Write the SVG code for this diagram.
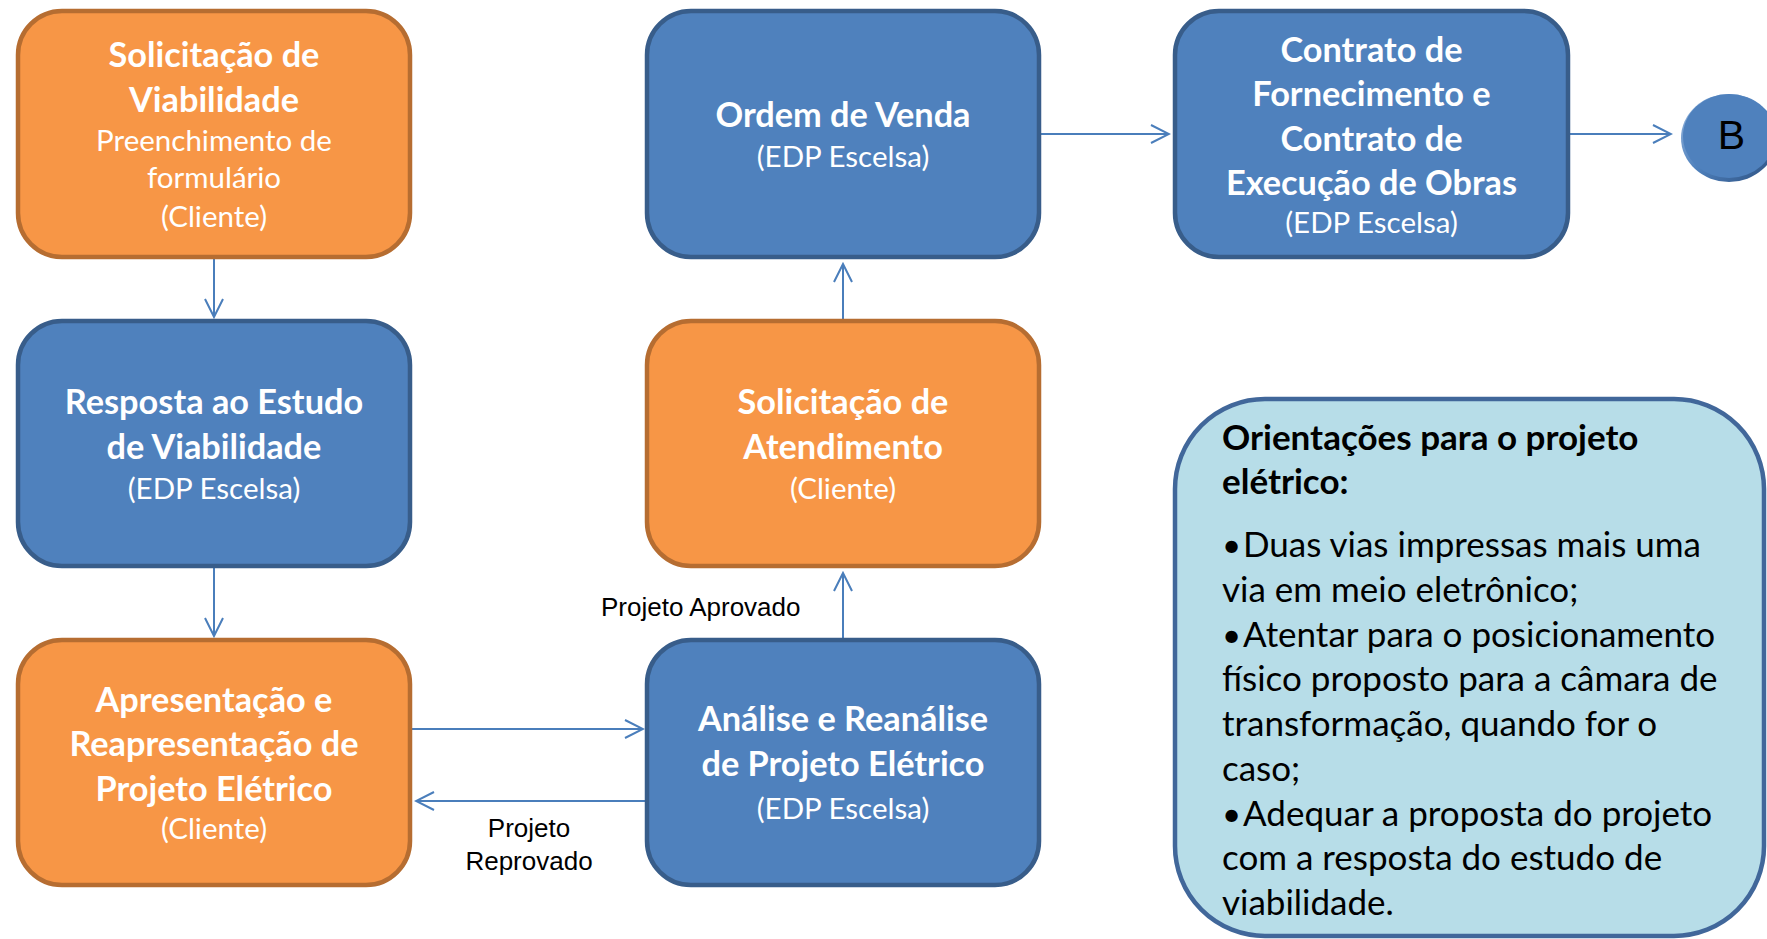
<svg xmlns="http://www.w3.org/2000/svg" width="1767" height="939" viewBox="0 0 1767 939">
<style>
.org{fill:#F79646;stroke:#B66D31;stroke-width:4.5}
.blu{fill:#4F81BD;stroke:#385D8A;stroke-width:4.5}
.tb{font-family:Lato,"Open Sans",sans-serif;font-weight:bold;font-size:34.3px;fill:#fff;text-anchor:middle}
.tr{font-family:Lato,"Open Sans",sans-serif;font-size:29.5px;fill:#fff;text-anchor:middle}
.lbl{font-family:"Liberation Sans",Arial,sans-serif;font-size:26px;fill:#000}
.info{font-family:Lato,"Open Sans",sans-serif;font-size:35px;fill:#000}
.bul{font-size:33px}
.conn{stroke:#4A7EBB;stroke-width:2;fill:none}
</style>
<defs>
<marker id="ah" viewBox="-20 -11 22 22" refX="0" refY="0" markerWidth="22" markerHeight="22" markerUnits="userSpaceOnUse" orient="auto">
<path d="M-18,-9 L0,0 L-18,9" fill="none" stroke="#4A7EBB" stroke-width="2"/>
</marker>
<linearGradient id="rim" x1="0" y1="0" x2="1" y2="1">
<stop offset="0" stop-color="#9DBBE0"/>
<stop offset="0.5" stop-color="#4F81BD"/>
<stop offset="1" stop-color="#2C4F7E"/>
</linearGradient>
</defs>

<g id="connectors">
<line class="conn" x1="214" y1="259" x2="214" y2="317" marker-end="url(#ah)"/>
<line class="conn" x1="214" y1="568" x2="214" y2="636" marker-end="url(#ah)"/>
<line class="conn" x1="412" y1="729" x2="643" y2="729" marker-end="url(#ah)"/>
<line class="conn" x1="645" y1="801" x2="416" y2="801" marker-end="url(#ah)"/>
<line class="conn" x1="843" y1="638" x2="843" y2="573" marker-end="url(#ah)"/>
<line class="conn" x1="843" y1="319" x2="843" y2="264" marker-end="url(#ah)"/>
<line class="conn" x1="1041" y1="134" x2="1169" y2="134" marker-end="url(#ah)"/>
<line class="conn" x1="1570" y1="134" x2="1671" y2="134" marker-end="url(#ah)"/>
<text class="lbl" x="601" y="616">Projeto Aprovado</text>
<text class="lbl" x="529" y="837" text-anchor="middle">Projeto</text>
<text class="lbl" x="529" y="870" text-anchor="middle">Reprovado</text>
</g>

<g id="n1">
<rect class="org" x="18" y="11" width="392" height="246" rx="44"/>
<text class="tb" x="214" y="67">Solicitação de</text>
<text class="tb" x="214" y="112">Viabilidade</text>
<text class="tr" x="214" y="151">Preenchimento de</text>
<text class="tr" x="214" y="188">formulário</text>
<text class="tr" x="214" y="227">(Cliente)</text>
</g>

<g id="n2">
<rect class="blu" x="18" y="321" width="392" height="245" rx="44"/>
<text class="tb" x="214" y="414">Resposta ao Estudo</text>
<text class="tb" x="214" y="459">de Viabilidade</text>
<text class="tr" x="214" y="499">(EDP Escelsa)</text>
</g>

<g id="n3">
<rect class="org" x="18" y="640" width="392" height="245" rx="44"/>
<text class="tb" x="214" y="712">Apresentação e</text>
<text class="tb" x="214" y="756">Reapresentação de</text>
<text class="tb" x="214" y="801">Projeto Elétrico</text>
<text class="tr" x="214" y="839">(Cliente)</text>
</g>

<g id="n4">
<rect class="blu" x="647" y="11" width="392" height="246" rx="44"/>
<text class="tb" x="843" y="127">Ordem de Venda</text>
<text class="tr" x="843" y="167">(EDP Escelsa)</text>
</g>

<g id="n5">
<rect class="org" x="647" y="321" width="392" height="245" rx="44"/>
<text class="tb" x="843" y="414">Solicitação de</text>
<text class="tb" x="843" y="459">Atendimento</text>
<text class="tr" x="843" y="499">(Cliente)</text>
</g>

<g id="n6">
<rect class="blu" x="647" y="640" width="392" height="245" rx="44"/>
<text class="tb" x="843" y="731">Análise e Reanálise</text>
<text class="tb" x="843" y="776">de Projeto Elétrico</text>
<text class="tr" x="843" y="819">(EDP Escelsa)</text>
</g>

<g id="n7">
<rect class="blu" x="1175" y="11" width="393" height="246" rx="44"/>
<text class="tb" x="1371.5" y="62">Contrato de</text>
<text class="tb" x="1371.5" y="106">Fornecimento e</text>
<text class="tb" x="1371.5" y="151">Contrato de</text>
<text class="tb" x="1371.5" y="195">Execução de Obras</text>
<text class="tr" x="1371.5" y="233">(EDP Escelsa)</text>
</g>

<g id="nB">
<ellipse cx="1729" cy="138" rx="48" ry="44" fill="url(#rim)"/>
<ellipse cx="1729" cy="136" rx="46" ry="42" fill="#4F81BD"/>
<text x="1731.5" y="149" font-family="Liberation Sans,Arial,sans-serif" font-size="41" fill="#000" text-anchor="middle">B</text>
</g>

<g id="info">
<rect x="1175" y="399" width="589" height="537" rx="90" fill="#B7DDE8" stroke="#41679A" stroke-width="4.5"/>
<text class="info" x="1222" y="450" font-weight="bold">Orientações para o projeto</text>
<text class="info" x="1222" y="494" font-weight="bold">elétrico:</text>
<text class="info" x="1222" y="557"><tspan class="bul">•</tspan><tspan x="1243">Duas vias impressas mais uma</tspan></text>
<text class="info" x="1222" y="602">via em meio eletrônico;</text>
<text class="info" x="1222" y="647"><tspan class="bul">•</tspan><tspan x="1243">Atentar para o posicionamento</tspan></text>
<text class="info" x="1222" y="691">físico proposto para a câmara de</text>
<text class="info" x="1222" y="736">transformação, quando for o</text>
<text class="info" x="1222" y="781">caso;</text>
<text class="info" x="1222" y="826"><tspan class="bul">•</tspan><tspan x="1243">Adequar a proposta do projeto</tspan></text>
<text class="info" x="1222" y="870">com a resposta do estudo de</text>
<text class="info" x="1222" y="915">viabilidade.</text>
</g>
</svg>
